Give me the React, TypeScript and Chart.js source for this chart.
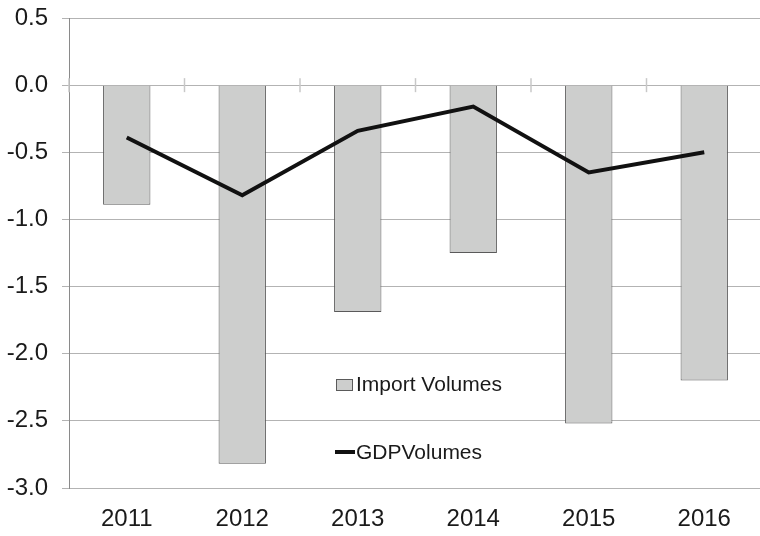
import React, { useEffect, useRef } from "react";
import { Chart, registerables } from "chart.js";

Chart.register(...registerables);

const categories = ["2011", "2012", "2013", "2014", "2015", "2016"];
const importVolumes = [-0.89, -2.82, -1.69, -1.25, -2.52, -2.2];
const gdpVolumes = [-0.39, -0.82, -0.34, -0.16, -0.65, -0.5];
const yMin = -3.0;
const yMax = 0.5;
const yStep = 0.5;

const FONT = "'Liberation Sans', Arial, Helvetica, sans-serif";

const zeroTicksPlugin = {
  id: "zeroTicks",
  afterDatasetsDraw(chart: any) {
    const x = chart.scales.x;
    const y = chart.scales.y;
    const ctx = chart.ctx;
    const y0 = y.getPixelForValue(0);
    const n = chart.data.labels.length;
    const half = (x.getPixelForValue(1) - x.getPixelForValue(0)) / 2;
    ctx.save();
    ctx.strokeStyle = "#c8c8c8";
    ctx.lineWidth = 1.5;
    for (let i = 0; i <= n; i++) {
      const px = x.getPixelForValue(i) - half;
      ctx.beginPath();
      ctx.moveTo(px, y0 - 7);
      ctx.lineTo(px, y0 + 7);
      ctx.stroke();
    }
    ctx.restore();
  },
};

const insideLegendPlugin = {
  id: "insideLegend",
  afterDraw(chart: any) {
    const ctx = chart.ctx;
    const ds = chart.data.datasets;
    ctx.save();
    ctx.font = `21px ${FONT}`;
    ctx.textBaseline = "middle";
    const bar = ds[1];
    ctx.fillStyle = bar.backgroundColor;
    ctx.fillRect(336.5, 379.5, 16, 11);
    ctx.strokeStyle = bar.borderColor;
    ctx.lineWidth = 1;
    ctx.strokeRect(336.5, 379.5, 16, 11);
    ctx.fillStyle = "#1a1a1a";
    ctx.fillText(bar.label, 356, 385);
    const line = ds[0];
    ctx.strokeStyle = line.borderColor;
    ctx.lineWidth = 4;
    ctx.beginPath();
    ctx.moveTo(335, 452);
    ctx.lineTo(355, 452);
    ctx.stroke();
    ctx.fillText(line.label, 356, 453);
    ctx.restore();
  },
};

export default function App() {
  const ref = useRef<HTMLCanvasElement | null>(null);
  useEffect(() => {
    if (!ref.current) return;
    const chart = new Chart(ref.current, {
      type: "bar",
      data: {
        labels: categories,
        datasets: [
          {
            type: "line",
            label: "GDPVolumes",
            data: gdpVolumes,
            borderColor: "#111111",
            backgroundColor: "#111111",
            borderWidth: 4,
            pointRadius: 0,
            tension: 0,
            order: 0,
          } as any,
          {
            type: "bar",
            label: "Import Volumes",
            data: importVolumes,
            backgroundColor: "#cdcecd",
            borderColor: "#5a5a5a",
            borderWidth: 1,
            categoryPercentage: 1,
            barPercentage: 0.41,
            order: 1,
          },
        ],
      },
      options: {
        responsive: false,
        animation: false,
        layout: { padding: { left: 7, right: 8, top: 18, bottom: 0 } },
        plugins: {
          legend: { display: false },
          tooltip: { enabled: false },
        },
        scales: {
          x: {
            offset: true,
            grid: { display: false, drawTicks: false },
            border: { display: false },
            ticks: {
              color: "#1a1a1a",
              font: { family: FONT, size: 24 },
              padding: 17,
              maxRotation: 0,
            },
            afterFit: (s: any) => {
              s.height = 48;
              s.paddingLeft = 0;
              s.paddingRight = 0;
            },
          },
          y: {
            min: yMin,
            max: yMax,
            ticks: {
              stepSize: yStep,
              color: "#1a1a1a",
              font: { family: FONT, size: 24 },
              padding: 14,
              callback: (v: any) => Number(v).toFixed(1),
            },
            grid: {
              color: "#b3b3b3",
              lineWidth: 1,
              tickLength: 7,
              tickColor: "#b3b3b3",
            },
            border: { display: true, color: "#8a8a8a", width: 1 },
            afterFit: (s: any) => {
              s.width = 62;
              s.paddingTop = 0;
              s.paddingBottom = 0;
            },
          },
        },
      },
      plugins: [zeroTicksPlugin, insideLegendPlugin],
    });
    return () => chart.destroy();
  }, []);
  return (
    <div
      style={{
        position: "fixed",
        left: 0,
        top: 0,
        width: 760,
        height: 536,
        overflow: "hidden",
        background: "#ffffff",
      }}
    >
      <canvas ref={ref} width={770} height={536} style={{ display: "block" }} />
    </div>
  );
}
